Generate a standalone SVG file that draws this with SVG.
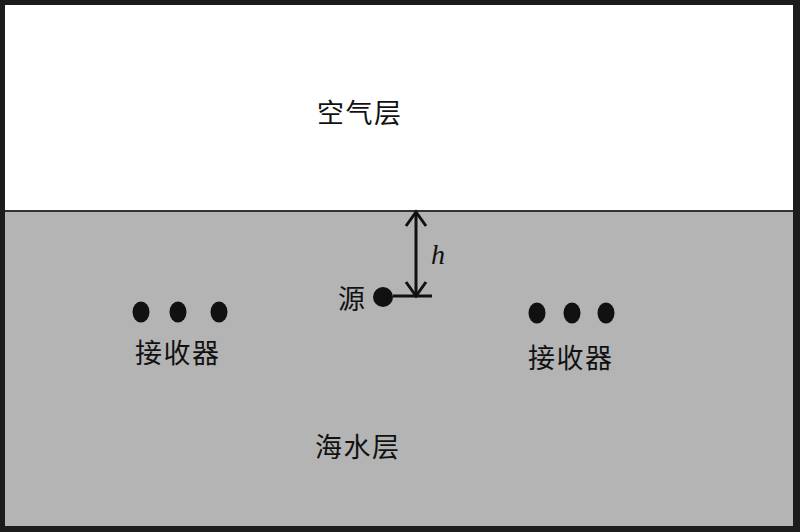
<svg xmlns="http://www.w3.org/2000/svg" width="800" height="532" viewBox="0 0 800 532">
<style>
.t{font-family:"Noto Sans CJK SC","Liberation Serif",serif;font-size:27px;letter-spacing:1.5px;fill:#111;}
.dot{fill:#111;}
.ln{stroke:#111;stroke-width:3;fill:none;}
</style>
<rect x="0" y="0" width="800" height="532" fill="#1c1c1c"/>
<rect id="air" x="5" y="5" width="788" height="206" fill="#ffffff"/>
<rect id="sea" x="5" y="211" width="788" height="315" fill="#b4b4b4"/>
<line x1="5" y1="211" x2="793" y2="211" stroke="#333" stroke-width="2"/>
<g id="labels">
<text class="t" x="317" y="123">空气层</text>
<text class="t" x="315" y="457">海水层</text>
</g>
<g id="source">
<circle class="dot" cx="383" cy="297" r="10"/>
<text class="t" x="338" y="309">源</text>
</g>
<g id="receivers-left">
<ellipse class="dot" cx="141" cy="312" rx="8.5" ry="10.5"/>
<ellipse class="dot" cx="178" cy="312" rx="8.5" ry="10.5"/>
<ellipse class="dot" cx="219" cy="312" rx="8.5" ry="10.5"/>
<text class="t" x="135" y="363">接收器</text>
</g>
<g id="receivers-right">
<ellipse class="dot" cx="537" cy="313" rx="8.5" ry="10.5"/>
<ellipse class="dot" cx="572" cy="313" rx="8.5" ry="10.5"/>
<ellipse class="dot" cx="606" cy="313" rx="8.5" ry="10.5"/>
<text class="t" x="528" y="368">接收器</text>
</g>
<g id="connectors">
<line class="ln" x1="416" y1="212" x2="416" y2="296"/>
<polyline class="ln" points="406,226 416,212 426,226"/>
<polyline class="ln" points="406,282 416,296 426,282"/>
<line class="ln" x1="393" y1="296" x2="432" y2="296"/>
</g>
<text x="431" y="264" font-family="Liberation Serif,serif" font-style="italic" font-size="28" fill="#111">h</text>
</svg>
